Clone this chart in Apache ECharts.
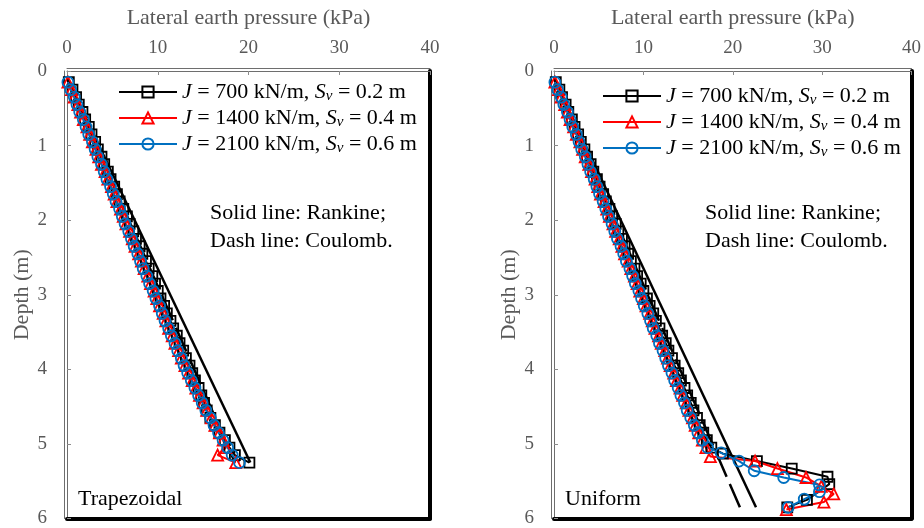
<!DOCTYPE html>
<html>
<head>
<meta charset="utf-8">
<script src="https://cdn.jsdelivr.net/npm/echarts@6/dist/echarts.min.js"></script>
<style>
  html, body { margin: 0; padding: 0; background: #fff; }
  #chart { width: 924px; height: 528px; }
</style>
</head>
<body>
<div id="chart"></div>
<script>
// Axis ticks
const pressureTicks = [0, 10, 20, 30, 40];   // kPa
const depthTicks = [0, 1, 2, 3, 4, 5, 6];     // m

// Series names (legend order)
const seriesNames = ['J700', 'J1400', 'J2100'];

// ---------- Trapezoidal panel ----------
const depthTrap = [
  0.15, 0.25, 0.35, 0.45, 0.55, 0.65, 0.75, 0.85, 0.95, 1.05,
  1.15, 1.25, 1.35, 1.45, 1.55, 1.65, 1.75, 1.85, 1.95, 2.05,
  2.15, 2.25, 2.35, 2.45, 2.55, 2.65, 2.75, 2.85, 2.95, 3.05,
  3.15, 3.25, 3.35, 3.45, 3.55, 3.65, 3.75, 3.85, 3.95, 4.05,
  4.15, 4.25, 4.35, 4.45, 4.55, 4.65, 4.75, 4.85, 4.95, 5.05,
  5.15, 5.25
];
const trapJ700 = [
  0.2, 0.6, 1.0, 1.3, 1.7, 2.0, 2.4, 2.7, 3.1, 3.4,
  3.8, 4.1, 4.5, 4.8, 5.2, 5.5, 5.8, 6.2, 6.6, 6.9,
  7.3, 7.6, 8.0, 8.3, 8.7, 9.0, 9.4, 9.7, 10.0, 10.3,
  10.7, 11.0, 11.4, 11.7, 12.1, 12.4, 12.8, 13.1, 13.5, 13.8,
  14.1, 14.5, 14.8, 15.1, 15.4, 15.8, 16.3, 16.8, 17.4, 17.9,
  18.5, 20.1
];
const trapJ1400 = [
  0.1, 0.5, 0.8, 1.2, 1.5, 1.8, 2.2, 2.5, 2.8, 3.2,
  3.5, 3.8, 4.2, 4.5, 4.9, 5.2, 5.5, 5.9, 6.2, 6.5,
  6.9, 7.2, 7.5, 7.9, 8.2, 8.5, 8.9, 9.2, 9.6, 9.9,
  10.2, 10.6, 10.9, 11.2, 11.6, 11.9, 12.3, 12.6, 13.0, 13.4,
  13.8, 14.2, 14.6, 15.0, 15.4, 15.9, 16.3, 16.8, 17.2, 17.5,
  16.6, 18.6
];
const trapJ2100 = [
  0.1, 0.4, 0.8, 1.1, 1.4, 1.8, 2.1, 2.4, 2.8, 3.1,
  3.4, 3.8, 4.1, 4.4, 4.8, 5.1, 5.4, 5.8, 6.1, 6.4,
  6.8, 7.1, 7.4, 7.8, 8.1, 8.4, 8.8, 9.1, 9.5, 9.8,
  10.2, 10.5, 10.8, 11.2, 11.5, 11.9, 12.2, 12.6, 12.9, 13.3,
  13.7, 14.1, 14.5, 14.9, 15.3, 15.8, 16.2, 16.7, 17.2, 17.7,
  18.2, 19.0
];
// Theoretical lines (end points)
const trapRankineDepth = [0.1, 5.25];
const trapRankine = [0, 20.2];
const trapCoulombDepth = [0.1, 5.25];
const trapCoulomb = [0, 18.5];

// ---------- Uniform panel ----------
const depthUni = [
  0.15, 0.25, 0.35, 0.45, 0.55, 0.65, 0.75, 0.85, 0.95, 1.05,
  1.15, 1.25, 1.35, 1.45, 1.55, 1.65, 1.75, 1.85, 1.95, 2.05,
  2.15, 2.25, 2.35, 2.45, 2.55, 2.65, 2.75, 2.85, 2.95, 3.05,
  3.15, 3.25, 3.35, 3.45, 3.55, 3.65, 3.75, 3.85, 3.95, 4.05,
  4.15, 4.25, 4.35, 4.45, 4.55, 4.65, 4.75, 4.85, 4.95, 5.05
];
const uniJ700 = [
  0.2, 0.6, 0.9, 1.3, 1.6, 2.0, 2.3, 2.7, 3.0, 3.4,
  3.7, 4.1, 4.4, 4.8, 5.1, 5.5, 5.8, 6.2, 6.5, 6.9,
  7.2, 7.6, 7.9, 8.3, 8.6, 9.0, 9.3, 9.7, 10.0, 10.4,
  10.7, 11.1, 11.4, 11.8, 12.1, 12.5, 12.8, 13.2, 13.5, 13.9,
  14.2, 14.6, 14.9, 15.3, 15.6, 16.0, 16.3, 16.7, 17.1, 17.6
];
const uniJ1400 = [
  0.1, 0.5, 0.8, 1.2, 1.5, 1.8, 2.2, 2.5, 2.9, 3.2,
  3.5, 3.9, 4.2, 4.6, 4.9, 5.2, 5.6, 5.9, 6.2, 6.6,
  6.9, 7.3, 7.6, 7.9, 8.3, 8.6, 9.0, 9.3, 9.6, 10.0,
  10.3, 10.7, 11.0, 11.3, 11.7, 12.0, 12.4, 12.7, 13.0, 13.4,
  13.7, 14.1, 14.4, 14.8, 15.1, 15.5, 15.8, 16.2, 16.6, 17.0
];
const uniJ2100 = [
  0.1, 0.4, 0.8, 1.1, 1.5, 1.8, 2.1, 2.5, 2.8, 3.1,
  3.5, 3.8, 4.1, 4.5, 4.8, 5.1, 5.5, 5.8, 6.1, 6.5,
  6.8, 7.1, 7.5, 7.8, 8.1, 8.5, 8.8, 9.1, 9.5, 9.8,
  10.1, 10.5, 10.8, 11.1, 11.5, 11.8, 12.2, 12.5, 12.8, 13.2,
  13.5, 13.9, 14.2, 14.6, 14.9, 15.3, 15.7, 16.1, 16.6, 17.2
];
// Bottom portion of the uniform case
const uniTailDepthJ700 = [5.13, 5.23, 5.33, 5.44, 5.54, 5.75, 5.85];
const uniTailJ700 = [18.9, 22.7, 26.6, 30.6, 30.8, 28.3, 26.1];
const uniTailDepthJ1400 = [5.17, 5.23, 5.33, 5.45, 5.57, 5.67, 5.78, 5.88];
const uniTailJ1400 = [17.5, 22.5, 25.0, 28.2, 29.9, 31.3, 30.2, 26.0];
const uniTailDepthJ2100 = [5.12, 5.23, 5.36, 5.45, 5.55, 5.64, 5.74, 5.85];
const uniTailJ2100 = [18.7, 20.7, 22.4, 25.7, 29.7, 29.7, 28.0, 26.2];
const uniRankineDepth = [0.1, 5.85];
const uniRankine = [0, 22.6];
const uniCoulombDepth = [0.1, 5.85];
const uniCoulomb = [0, 20.8];

// ---------- styling ----------
const FONT = '"Liberation Serif", "Times New Roman", serif';
const AXIS_GRAY = '#595959';
const FRAME_GRAY = '#6e6e6e';
const COLORS = { J700: '#000000', J1400: '#ff0000', J2100: '#0070c0' };
const SYMBOLS = { J700: 'rect', J1400: 'triangle', J2100: 'circle' };
const SIZES = { J700: 10, J1400: 11, J2100: 11 };
const LEGEND_TEXT = {
  J700: '{i|J} = 700 kN/m, {i|S}{s|v} = 0.2 m',
  J1400: '{i|J} = 1400 kN/m, {i|S}{s|v} = 0.4 m',
  J2100: '{i|J} = 2100 kN/m, {i|S}{s|v} = 0.6 m'
};

function zip(xs, ys) { return xs.map((x, i) => [x, ys[i]]); }

const grids = [
  { left: 67, top: 71, width: 363, height: 448 },
  { left: 554, top: 71, width: 363, height: 448 }
];

const xAxes = [];
const yAxes = [];
const mainX = [];
const mainY = [];

const pMin = pressureTicks[0], pMax = pressureTicks[pressureTicks.length - 1];
const pStep = pressureTicks[1] - pressureTicks[0];
const dMin = depthTicks[0], dMax = depthTicks[depthTicks.length - 1];
const dStep = depthTicks[1] - depthTicks[0];

function edgeX(gi, position, offset, color, width) {
  return {
    gridIndex: gi, type: 'value', position: position, offset: offset,
    min: pMin, max: pMax,
    axisLine: { show: true, onZero: false, lineStyle: { color: color, width: width } },
    axisTick: { show: false }, axisLabel: { show: false }, splitLine: { show: false }
  };
}
function edgeY(gi, position, offset, color, width) {
  return {
    gridIndex: gi, type: 'value', position: position, offset: offset, inverse: true,
    min: dMin, max: dMax,
    axisLine: { show: true, onZero: false, lineStyle: { color: color, width: width } },
    axisTick: { show: false }, axisLabel: { show: false }, splitLine: { show: false }
  };
}

grids.forEach((g, gi) => {
  // main top axis with labels
  mainX.push(xAxes.length);
  xAxes.push({
    gridIndex: gi, type: 'value', position: 'top',
    min: pMin, max: pMax, interval: pStep,
    name: 'Lateral earth pressure (kPa)', nameLocation: 'middle', nameGap: 42,
    nameTextStyle: { color: AXIS_GRAY, fontSize: 22, fontFamily: FONT },
    axisLine: { show: true, onZero: false, lineStyle: { color: FRAME_GRAY, width: 1 } },
    axisTick: { show: true, inside: true, length: 4, lineStyle: { color: '#8c8c8c' } },
    axisLabel: { color: AXIS_GRAY, fontSize: 19, fontFamily: FONT, margin: 13 },
    splitLine: { show: false }
  });
  xAxes.push(edgeX(gi, 'top', 3, FRAME_GRAY, 1));
  xAxes.push(edgeX(gi, 'bottom', 0, '#000', 4));

  mainY.push(yAxes.length);
  yAxes.push({
    gridIndex: gi, type: 'value', position: 'left', inverse: true,
    min: dMin, max: dMax, interval: dStep,
    name: 'Depth (m)', nameLocation: 'middle', nameGap: 33,
    nameTextStyle: { color: AXIS_GRAY, fontSize: 22, fontFamily: FONT },
    axisLine: { show: true, onZero: false, lineStyle: { color: FRAME_GRAY, width: 1 } },
    axisTick: { show: true, inside: true, length: 4, lineStyle: { color: '#8c8c8c' } },
    axisLabel: { color: AXIS_GRAY, fontSize: 19, fontFamily: FONT, margin: 20 },
    splitLine: { show: false }
  });
  yAxes.push(edgeY(gi, 'left', 3, FRAME_GRAY, 1));
  yAxes.push(edgeY(gi, 'right', 0, '#000', 4));
});

function theoryLine(name, gi, data, dashed) {
  return {
    name: name, type: 'line', xAxisIndex: mainX[gi], yAxisIndex: mainY[gi],
    data: data, showSymbol: false, silent: true,
    lineStyle: { color: '#000', width: 2.5, type: dashed ? [26, 8] : 'solid' },
    z: 1
  };
}

function measured(key, gi, data) {
  return {
    name: key, type: 'line', xAxisIndex: mainX[gi], yAxisIndex: mainY[gi],
    data: data, symbol: SYMBOLS[key], symbolSize: SIZES[key], showAllSymbol: true,
    lineStyle: { color: COLORS[key], width: 2 },
    itemStyle: { color: 'rgba(255,255,255,0)', borderColor: COLORS[key], borderWidth: 1.8 },
    z: 2
  };
}

const series = [
  theoryLine('Coulomb (trapezoidal)', 0, zip(trapCoulomb, trapCoulombDepth), true),
  theoryLine('Rankine (trapezoidal)', 0, zip(trapRankine, trapRankineDepth), false),
  measured('J700', 0, zip(trapJ700, depthTrap)),
  measured('J1400', 0, zip(trapJ1400, depthTrap)),
  measured('J2100', 0, zip(trapJ2100, depthTrap)),

  theoryLine('Coulomb (uniform)', 1, zip(uniCoulomb, uniCoulombDepth), true),
  theoryLine('Rankine (uniform)', 1, zip(uniRankine, uniRankineDepth), false),
  measured('J700', 1, zip(uniJ700.concat(uniTailJ700), depthUni.concat(uniTailDepthJ700))),
  measured('J1400', 1, zip(uniJ1400.concat(uniTailJ1400), depthUni.concat(uniTailDepthJ1400))),
  measured('J2100', 1, zip(uniJ2100.concat(uniTailJ2100), depthUni.concat(uniTailDepthJ2100)))
];

function legendFor(left, top) {
  return {
    data: seriesNames, orient: 'vertical', left: left, top: top, padding: 0,
    selectedMode: false, itemWidth: 58, itemHeight: 14, itemGap: 2,
    formatter: name => LEGEND_TEXT[name],
    textStyle: {
      color: '#000', fontSize: 22, fontFamily: FONT, lineHeight: 24,
      rich: {
        i: { fontStyle: 'italic', fontSize: 22, fontFamily: FONT, color: '#000' },
        s: { fontStyle: 'italic', fontSize: 15, fontFamily: FONT, color: '#000', padding: [9, 0, 0, 0] }
      }
    }
  };
}

function note(left, top, text) {
  return {
    type: 'text', left: left, top: top, silent: true,
    style: { text: text, font: '22px ' + FONT, fill: '#000', lineHeight: 28 }
  };
}

const chart = echarts.init(document.getElementById('chart'), null, { renderer: 'canvas' });
chart.setOption({
  animation: false,
  backgroundColor: '#fff',
  grid: grids,
  xAxis: xAxes,
  yAxis: yAxes,
  legend: [legendFor(118, 80), legendFor(602, 84)],
  series: series,
  graphic: [
    note(210, 199, 'Solid line: Rankine;\nDash line: Coulomb.'),
    note(705, 199, 'Solid line: Rankine;\nDash line: Coulomb.'),
    note(78, 485, 'Trapezoidal'),
    note(565, 485, 'Uniform')
  ]
});
</script>
</body>
</html>
